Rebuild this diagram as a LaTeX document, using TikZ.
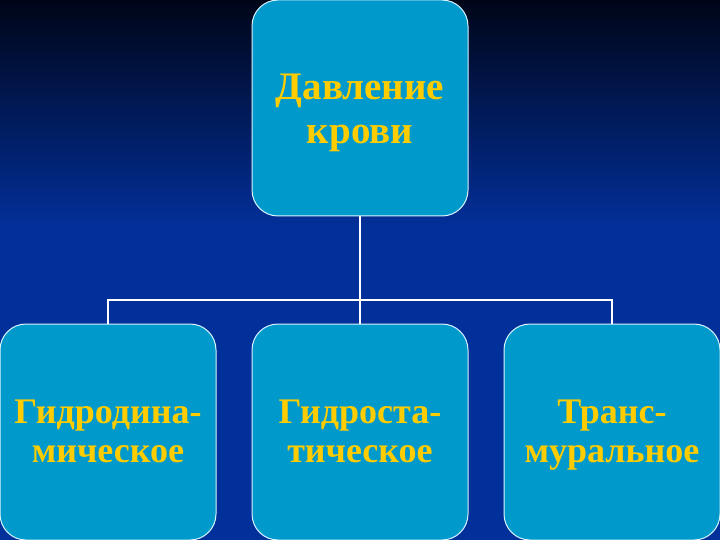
\documentclass[tikz,border=0pt]{standalone}
\usepackage{fontspec}
\setmainfont{Liberation Serif}
\usepackage{xcolor}
\usetikzlibrary{positioning}
\definecolor{bgtop}{RGB}{0,5,24}
\definecolor{bgbot}{RGB}{2,48,155}
\definecolor{boxfill}{RGB}{0,153,204}
\definecolor{boxtext}{RGB}{255,204,0}
\newcommand{\lnstrut}{\rule[-0.2\baselineskip]{0pt}{\baselineskip}}

\tikzset{
  block/.style={draw=white!85!cyan,line width=1pt,fill=boxfill,rounded corners=26pt,
    minimum width=216pt,minimum height=216pt,inner sep=0pt,align=center,
    text=boxtext,font=\fontsize{36}{38}\selectfont\bfseries},
  bigtext/.style={font=\fontsize{39}{44}\selectfont\bfseries},
  link/.style={draw=white,line width=2pt}
}

\begin{document}
\begin{tikzpicture}[x=1pt,y=-1pt]
\shade[top color=bgtop,bottom color=bgbot] (0,0) rectangle (720,230);
\fill[bgbot] (0,229) rectangle (720,540);
\useasboundingbox (0,0) rectangle (720,540);
% top block
\node[block,bigtext] (blood) at (360,108) {\lnstrut Давление\\\lnstrut крови};
% bottom blocks
\node[block] (dyn) at (108,432) {\lnstrut Гидродина-\\\lnstrut мическое};
\node[block] (stat) at (360,432) {\lnstrut Гидроста-\\\lnstrut тическое};
\node[block] (trans) at (612,432) {\lnstrut Транс-\\\lnstrut муральное};
% links
\coordinate (fork) at (360,300);
\draw[link] (blood.south) -- (fork);
\draw[link] (dyn.north) -- (dyn.north |- fork) -- (trans.north |- fork) -- (trans.north);
\draw[link] (fork) -- (stat.north);
\end{tikzpicture}
\end{document}
